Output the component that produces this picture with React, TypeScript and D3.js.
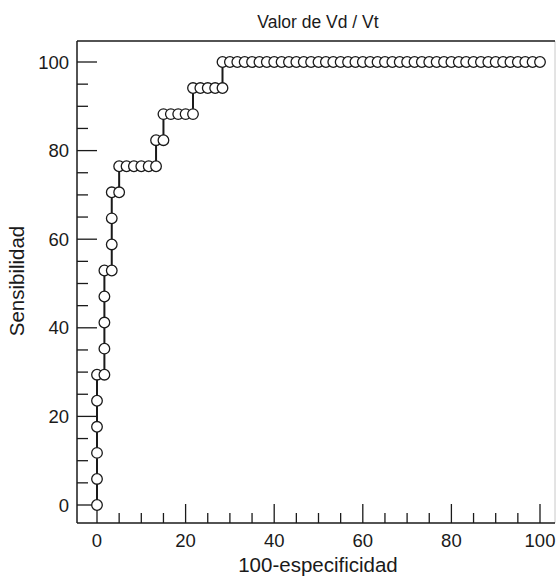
import React from "react";
import * as d3 from "d3";

const title = "Valor de Vd / Vt";
const xLabel = "100-especificidad";
const yLabel = "Sensibilidad";

// 100 - specificity (false positive rate, %)
const fpr: number[] = [
  0, 0, 0, 0, 0, 0,
  1.67, 1.67, 1.67, 1.67, 1.67,
  3.33, 3.33, 3.33, 3.33,
  5, 5,
  6.67, 8.33, 10, 11.67, 13.33,
  13.33,
  15, 15,
  16.67, 18.33, 20, 21.67,
  21.67,
  23.33, 25, 26.67, 28.33,
  28.33,
  30, 31.67, 33.33, 35, 36.67, 38.33, 40, 41.67, 43.33, 45, 46.67, 48.33,
  50, 51.67, 53.33, 55, 56.67, 58.33, 60, 61.67, 63.33, 65, 66.67, 68.33,
  70, 71.67, 73.33, 75, 76.67, 78.33, 80, 81.67, 83.33, 85, 86.67, 88.33,
  90, 91.67, 93.33, 95, 96.67, 98.33, 100,
];

// Sensitivity (%)
const sens: number[] = [
  0, 5.88, 11.76, 17.65, 23.53, 29.41,
  29.41, 35.29, 41.18, 47.06, 52.94,
  52.94, 58.82, 64.71, 70.59,
  70.59, 76.47,
  76.47, 76.47, 76.47, 76.47, 76.47,
  82.35,
  82.35, 88.24,
  88.24, 88.24, 88.24, 88.24,
  94.12,
  94.12, 94.12, 94.12, 94.12,
  100,
  100, 100, 100, 100, 100, 100, 100, 100, 100, 100, 100, 100,
  100, 100, 100, 100, 100, 100, 100, 100, 100, 100, 100, 100,
  100, 100, 100, 100, 100, 100, 100, 100, 100, 100, 100, 100,
  100, 100, 100, 100, 100, 100, 100,
];

const majorTicks = [0, 20, 40, 60, 80, 100];
const minorTicks = [5, 10, 15, 25, 30, 35, 45, 50, 55, 65, 70, 75, 85, 90, 95];

const W = 558;
const H = 577;
const left = 77;
const right = 555;
const top = 41;
const bottom = 523;
const font = "'Liberation Sans', Arial, Helvetica, sans-serif";
const ink = "#1a1a1a";

export default function App() {
  const x = d3.scaleLinear().domain([0, 100]).range([97, 540]);
  const y = d3.scaleLinear().domain([0, 100]).range([505, 62]);
  const pts = fpr.map((v, i) => [v, sens[i]] as [number, number]);
  const line = d3
    .line<[number, number]>()
    .x((d) => x(d[0]))
    .y((d) => y(d[1]));

  return (
    <svg
      width={W}
      height={H}
      style={{ position: "absolute", left: 0, top: 0, background: "#fff" }}
      fontFamily={font}
    >
      <rect x={0} y={0} width={W} height={H} fill="#fff" />
      {/* frame */}
      <line x1={right} x2={right} y1={top} y2={bottom} stroke="#c8c8c8" strokeWidth={1} />
      <line x1={left} x2={right} y1={top} y2={top} stroke={ink} strokeWidth={1.5} />
      <line x1={left} x2={right} y1={bottom} y2={bottom} stroke={ink} strokeWidth={1.5} />
      <line x1={left} x2={left} y1={top} y2={bottom} stroke={ink} strokeWidth={1.5} />

      {/* x ticks */}
      {majorTicks.map((t) => (
        <g key={"xm" + t}>
          <line x1={x(t)} x2={x(t)} y1={bottom} y2={bottom - 19} stroke={ink} strokeWidth={1.3} />
          <text x={x(t)} y={546.5} textAnchor="middle" fontSize={18.5} fill={ink}>
            {t}
          </text>
        </g>
      ))}
      {minorTicks.map((t) => (
        <line key={"xn" + t} x1={x(t)} x2={x(t)} y1={bottom} y2={bottom - 10} stroke={ink} strokeWidth={1.3} />
      ))}

      {/* y ticks */}
      {majorTicks.map((t) => (
        <g key={"ym" + t}>
          <line x1={left} x2={left + 20} y1={y(t)} y2={y(t)} stroke={ink} strokeWidth={1.3} />
          <text x={69} y={y(t) + 6.5} textAnchor="end" fontSize={18.5} fill={ink}>
            {t}
          </text>
        </g>
      ))}
      {minorTicks.map((t) => (
        <line key={"yn" + t} x1={left} x2={left + 11} y1={y(t)} y2={y(t)} stroke={ink} strokeWidth={1.3} />
      ))}

      {/* curve */}
      <path d={line(pts) || ""} fill="none" stroke={ink} strokeWidth={2} />
      {pts.map((d, i) => (
        <circle key={i} cx={x(d[0])} cy={y(d[1])} r={5.3} fill="#fff" stroke={ink} strokeWidth={1.3} />
      ))}

      {/* labels */}
      <text x={318} y={28} textAnchor="middle" fontSize={17.5} fill={ink}>
        {title}
      </text>
      <text x={318} y={572} textAnchor="middle" fontSize={20.5} fill={ink}>
        {xLabel}
      </text>
      <text
        transform={`translate(24, 281) rotate(-90)`}
        textAnchor="middle"
        fontSize={20.5}
        fill={ink}
      >
        {yLabel}
      </text>
    </svg>
  );
}
